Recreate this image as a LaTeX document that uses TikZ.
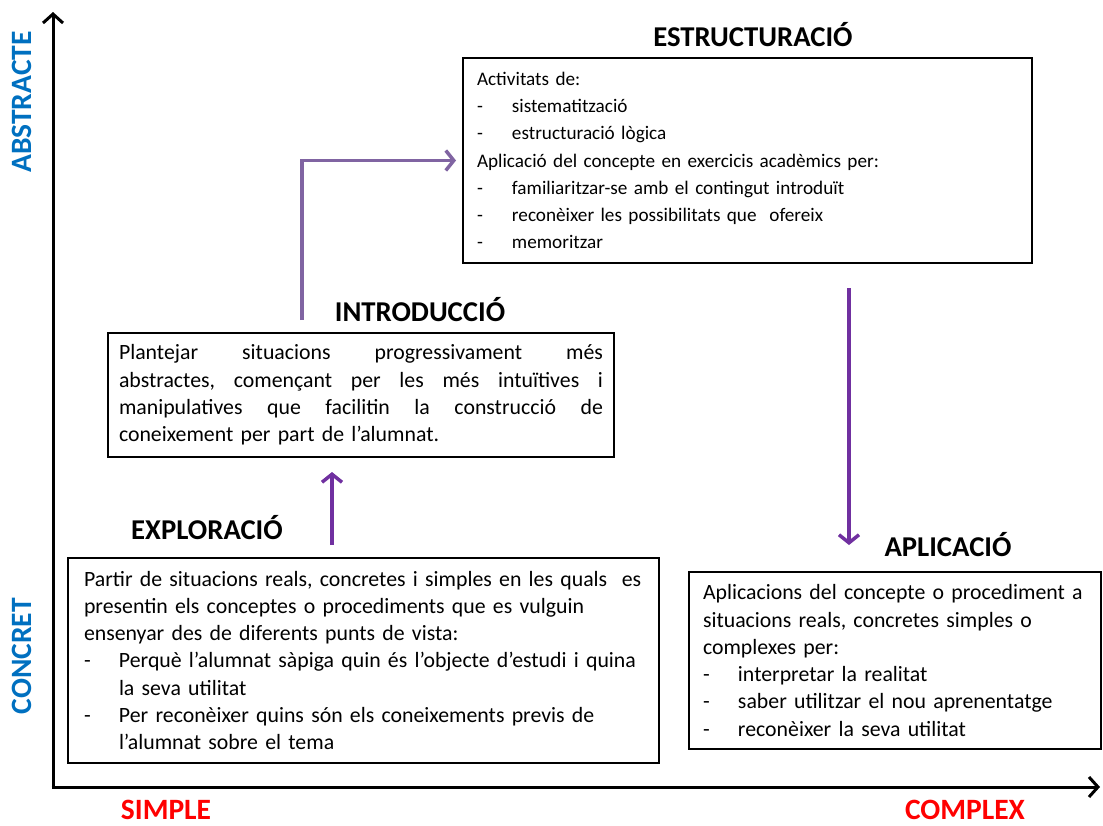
\documentclass[tikz,border=0pt]{standalone}
\usepackage{fontspec}
\setmainfont{Carlito}
\usetikzlibrary{arrows.meta,calc}
\definecolor{axblue}{RGB}{0,112,192}
\definecolor{axred}{RGB}{255,0,0}
\definecolor{purA}{RGB}{128,100,162}
\definecolor{purB}{RGB}{112,48,160}
\newcommand{\ml}[1]{\mbox{#1}}
\newcommand{\dl}[1]{\mbox{\makebox[35pt][l]{-}#1}}
\newcommand{\hg}[1]{\mbox{\hspace*{35pt}#1}}
\begin{document}
\begin{tikzpicture}[x=1pt,y=-1pt,
  box/.style={draw=black,line width=2pt,rectangle,anchor=north west,align=left,
    font=\fontsize{21.8}{27.3}\selectfont,inner ysep=0pt},
  ttl/.style={font=\fontsize{28.7}{32}\selectfont\bfseries,inner sep=0pt},
  axl/.style={font=\fontsize{29.5}{32}\selectfont\bfseries,inner sep=0pt},
  axis/.style={line width=3pt,-{Straight Barb[length=9pt,width=20pt,line width=3pt]}},
  parr/.style={line width=3.5pt,-{Straight Barb[length=8pt,width=20pt,line width=3.5pt]}}]
\useasboundingbox (0,0) rectangle (1103,825);
% axes
\coordinate (O) at (53,787);
\coordinate (ytip) at (53,12);
\coordinate (xtip) at (1100,787);
\draw[axis] ($(O)+(0,1.5)$) -- (ytip);
\draw[axis] ($(O)+(-1.5,0)$) -- (xtip);
\node[axl,text=axblue,rotate=90] (abs) at (22,102) {ABSTRACTE};
\node[axl,text=axblue,rotate=90] (con) at (22,656) {CONCRET};
\node[axl,text=axred] (sim) at (166,810) {SIMPLE};
\node[axl,text=axred] (cpx) at (965,810) {COMPLEX};
% titles
\node[ttl] (t1) at (753,35) {ESTRUCTURACIÓ};
\node[ttl] (t2) at (420,310) {INTRODUCCIÓ};
\node[ttl] (t3) at (207,528) {EXPLORACIÓ};
\node[ttl] (t4) at (948,545) {APLICACIÓ};
% boxes
\node[box,font=\fontsize{19.2}{27.3}\selectfont,inner xsep=14pt,text width=541pt,minimum height=205pt] (b1) at (462,57) {%
\ml{Activitats de:}\\
\dl{sistematització}\\
\dl{estructuració lògica}\\
\ml{Aplicació del concepte en exercicis acadèmics per:}\\
\dl{familiaritzar-se amb el contingut introduït}\\
\dl{reconèixer les possibilitats que\ \ ofereix}\\
\dl{memoritzar}};
\node[box,inner xsep=11pt,text width=484pt,minimum height=124pt] (b2) at (107,332) {%
\makebox[484pt][l]{Plantejar\hfill situacions\hfill progressivament\hfill més}\\
\makebox[484pt][l]{abstractes,\hfill començant\hfill per\hfill les\hfill més\hfill intuïtives\hfill i}\\
\makebox[484pt][l]{manipulatives\hfill que\hfill facilitin\hfill la\hfill construcció\hfill de}\\
\ml{coneixement per part de l’alumnat.}};
\node[box,inner xsep=16pt,text width=559pt,minimum height=205pt] (b3) at (67,557) {%
\ml{Partir de situacions reals, concretes i simples en les quals\ \ es}\\
\ml{presentin els conceptes o procediments que es vulguin}\\
\ml{ensenyar des de diferents punts de vista:}\\
\dl{Perquè l’alumnat sàpiga quin és l’objecte d’estudi i quina}\\
\hg{la seva utilitat}\\
\dl{Per reconèixer quins són els coneixements previs de}\\
\hg{l’alumnat sobre el tema}};
\node[box,inner xsep=14pt,text width=384pt,minimum height=177pt] (b4) at (688,571) {%
\ml{Aplicacions del concepte o procediment a}\\
\ml{situacions reals, concretes simples o}\\
\ml{complexes per:}\\
\dl{interpretar la realitat}\\
\dl{saber utilitzar el nou aprenentatge}\\
\dl{reconèixer la seva utilitat}};
% connectors
\coordinate (a1s) at ($(b2.north west)+(195,-12)$);
\draw[parr,purA] (a1s) |- ($(b1.west)+(-6,0)$);
\draw[parr,purB] ($(b3.north west)+(265,-12)$) -- ($(b2.south west)+(225,14)$);
\draw[parr,purB] ($(b1.south west)+(387,24)$) -- ($(b4.north west)+(161,-26)$);
\end{tikzpicture}
\end{document}
